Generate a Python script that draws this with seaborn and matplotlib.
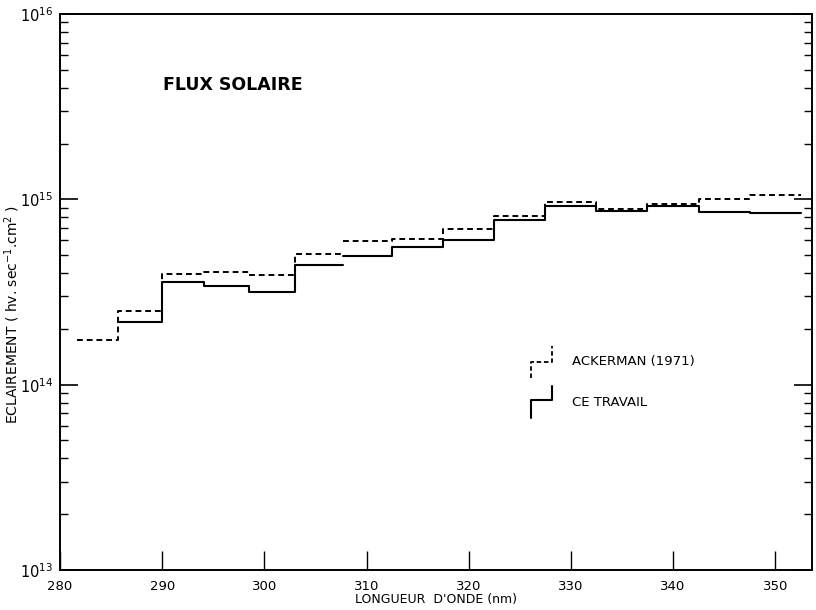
import numpy as np
import pandas as pd
import matplotlib
matplotlib.use("Agg")
import matplotlib.pyplot as plt
from matplotlib.lines import Line2D
from matplotlib.legend_handler import HandlerBase
from matplotlib.ticker import LogLocator, NullFormatter, FixedLocator
import seaborn as sns

# ---------------- data ----------------
# bin edges in nm; the curves are broken at 307.7 nm (two segments each)
ack_edges_1 = [281.7, 285.7, 290.0, 294.1, 298.5, 303.0, 307.7]
ack_vals_1 = [1.74e14, 2.50e14, 3.95e14, 4.05e14, 3.93e14, 5.10e14]
ack_edges_2 = [307.7, 312.5, 317.5, 322.5, 327.5, 332.5, 337.5, 342.5, 347.5, 352.5]
ack_vals_2 = [5.95e14, 6.10e14, 6.95e14, 8.10e14, 9.65e14, 8.90e14, 9.40e14, 1.01e15, 1.06e15]

ct_edges_1 = [285.7, 290.0, 294.1, 298.5, 303.0, 307.7]
ct_vals_1 = [2.17e14, 3.60e14, 3.40e14, 3.16e14, 4.40e14]
ct_edges_2 = [307.7, 312.5, 317.5, 322.5, 327.5, 332.5, 337.5, 342.5, 347.5, 352.5]
ct_vals_2 = [4.95e14, 5.50e14, 6.00e14, 7.75e14, 9.20e14, 8.60e14, 9.20e14, 8.50e14, 8.40e14]

x_ticks = [280, 290, 300, 310, 320, 330, 340, 350]
series_labels = ["ACKERMAN (1971)", "CE TRAVAIL"]
title_text = "FLUX SOLAIRE"
x_label = "LONGUEUR  D'ONDE (nm)"
y_label = "ECLAIREMENT ( hv. sec$^{-1}$.cm$^{2}$ )"


def step_frame(segments):
    rows = []
    for seg_id, (edges, vals) in enumerate(segments):
        for e, v in zip(edges[:-1], vals):
            rows.append((seg_id, e, v))
        rows.append((seg_id, edges[-1], vals[-1]))
    return pd.DataFrame(rows, columns=["seg", "wl", "flux"])


df_ack = step_frame([(ack_edges_1, ack_vals_1), (ack_edges_2, ack_vals_2)])
df_ct = step_frame([(ct_edges_1, ct_vals_1), (ct_edges_2, ct_vals_2)])

# ---------------- figure ----------------
sns.set_style("ticks")
plt.rcParams["font.family"] = ["DejaVu Sans"]
plt.rcParams["text.color"] = "black"
plt.rcParams["axes.labelcolor"] = "black"
plt.rcParams["xtick.color"] = "black"
plt.rcParams["ytick.color"] = "black"

fig = plt.figure(figsize=(8.16, 6.10), dpi=100)
ax = fig.add_axes([60 / 816, 1 - 570 / 610, (812 - 60) / 816, (570 - 14) / 610])

sns.lineplot(data=df_ack, x="wl", y="flux", units="seg", estimator=None,
             drawstyle="steps-post", color="black", linewidth=1.4,
             linestyle=(0, (3, 2)), ax=ax)
sns.lineplot(data=df_ct, x="wl", y="flux", units="seg", estimator=None,
             drawstyle="steps-post", color="black", linewidth=1.5,
             linestyle="-", ax=ax)

ax.set_yscale("log")
ax.set_ylim(1e13, 1e16)
ax.set_xlim(280, 353.6)

ax.xaxis.set_major_locator(FixedLocator(x_ticks))
ax.set_xticklabels([str(t) for t in x_ticks])
ax.yaxis.set_major_locator(LogLocator(base=10, numticks=10))
ax.yaxis.set_minor_locator(LogLocator(base=10, subs=np.arange(2, 10), numticks=20))
ax.yaxis.set_minor_formatter(NullFormatter())

ax.tick_params(axis="x", which="major", direction="in", length=14, width=1.0,
               labelsize=9.5, pad=7, top=False)
ax.tick_params(axis="y", which="major", direction="in", length=13, width=1.2,
               labelsize=10.5, pad=5, right=True)
ax.tick_params(axis="y", which="minor", direction="in", length=6, width=1.0,
               right=True)

for s in ax.spines.values():
    s.set_visible(True)
    s.set_linewidth(1.4)
    s.set_color("black")

ax.set_xlabel(x_label, fontsize=9)
ax.xaxis.set_label_coords(0.5, -(593 - 570) / 556)
ax.set_ylabel(y_label, fontsize=10)
ax.yaxis.set_label_coords(-(60 - 22) / 752, (570 - 315) / 556)

ax.text((163 - 60) / 752, 1 - (85 - 14) / 556, title_text, transform=ax.transAxes,
        fontsize=12.5, ha="left", va="center", fontweight="bold")


# legend with step-shaped glyphs
class StepHandler(HandlerBase):
    def __init__(self, frac, **kw):
        super().__init__(**kw)
        self.frac = frac

    def create_artists(self, legend, orig_handle, xdescent, ydescent,
                       width, height, fontsize, trans):
        x0 = -xdescent
        yb = -ydescent + 0.1 * height
        yt = -ydescent + 0.9 * height
        ym = yb + (yt - yb) * self.frac
        line = Line2D([x0, x0, x0 + width, x0 + width],
                      [yb, ym, ym, yt])
        line.update_from(orig_handle)
        line.set_transform(trans)
        return [line]


h_ack = Line2D([], [], color="black", linewidth=1.3, linestyle=(0, (2.5, 1.5)))
h_ct = Line2D([], [], color="black", linewidth=1.5, linestyle="-")
ax.legend([h_ack, h_ct], series_labels,
          handler_map={h_ack: StepHandler(0.5), h_ct: StepHandler(0.58)},
          loc="upper left", bbox_to_anchor=((531 - 60) / 752, 1 - (342 - 14) / 556),
          frameon=False, fontsize=9.5, handlelength=1.6, handleheight=4.3,
          handletextpad=1.5, labelspacing=0.0, borderpad=0, borderaxespad=0)

fig.savefig("out.png", dpi=100)
